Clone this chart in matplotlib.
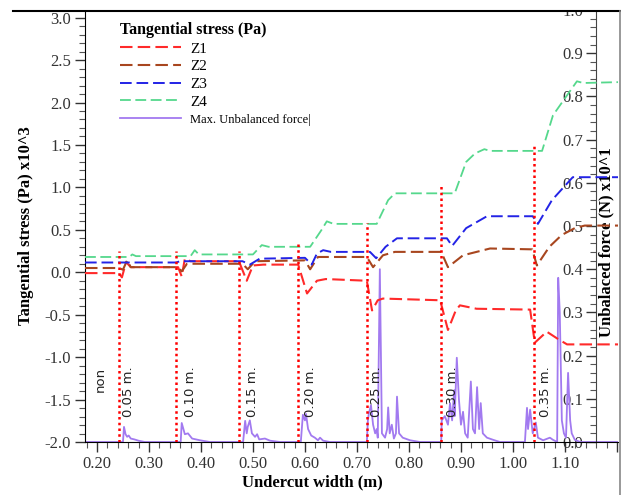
import matplotlib
matplotlib.use("Agg")
import matplotlib.pyplot as plt
from matplotlib.ticker import MultipleLocator, FormatStrFormatter, FuncFormatter
from matplotlib.lines import Line2D
from matplotlib.patches import Rectangle

# ---------------- data ----------------
z1_x = [0.177, 0.242, 0.248, 0.256, 0.265, 0.356, 0.363, 0.369, 0.380, 0.473, 0.488, 0.500,
        0.520, 0.587, 0.604, 0.623, 0.640, 0.719, 0.729, 0.740, 0.750, 0.860, 0.875, 0.890,
        0.898, 0.930, 1.033, 1.042, 1.065, 1.085, 1.104, 1.202]
z1_y = [-0.01, -0.01, -0.06, 0.12, 0.06, 0.06, -0.05, 0.16, 0.13, 0.13, -0.10, 0.08,
        0.09, 0.09, -0.25, -0.10, -0.08, -0.10, -0.45, -0.33, -0.31, -0.33, -0.68, -0.45,
        -0.39, -0.43, -0.44, -0.83, -0.70, -0.78, -0.85, -0.85]

z2_x = [0.177, 0.242, 0.250, 0.258, 0.265, 0.356, 0.363, 0.373, 0.480, 0.490, 0.504, 0.600,
        0.610, 0.625, 0.719, 0.731, 0.750, 0.773, 0.862, 0.875, 0.904, 0.956, 1.037, 1.046,
        1.070, 1.094, 1.119, 1.138, 1.202]
z2_y = [0.05, 0.05, 0.03, 0.14, 0.06, 0.06, 0.01, 0.10, 0.10, 0.035, 0.13, 0.14,
        0.035, 0.18, 0.18, 0.06, 0.20, 0.24, 0.24, 0.06, 0.20, 0.28, 0.27, 0.08,
        0.30, 0.44, 0.52, 0.55, 0.55]

z3_x = [0.177, 0.352, 0.360, 0.480, 0.494, 0.513, 0.600, 0.613, 0.623, 0.635, 0.650, 0.725,
        0.737, 0.755, 0.777, 0.873, 0.883, 0.910, 0.950, 1.038, 1.048, 1.075, 1.115, 1.202]
z3_y = [0.115, 0.115, 0.13, 0.13, 0.09, 0.16, 0.17, 0.09, 0.22, 0.26, 0.24, 0.24,
        0.165, 0.30, 0.40, 0.40, 0.31, 0.52, 0.66, 0.66, 0.57, 0.85, 1.12, 1.12]

z4_x = [0.177, 0.262, 0.268, 0.275, 0.380, 0.388, 0.396, 0.500, 0.517, 0.530, 0.610, 0.632,
        0.642, 0.655, 0.738, 0.760, 0.773, 0.888, 0.910, 0.927, 0.945, 0.956, 1.056, 1.077,
        1.100, 1.123, 1.135, 1.202]
z4_y = [0.18, 0.18, 0.21, 0.19, 0.19, 0.26, 0.21, 0.21, 0.32, 0.30, 0.30, 0.50,
        0.60, 0.57, 0.57, 0.85, 0.93, 0.93, 1.30, 1.40, 1.45, 1.43, 1.43, 1.85,
        2.05, 2.25, 2.23, 2.24]

uf_x = [0.177, 0.250, 0.252, 0.255, 0.258, 0.261, 0.265, 0.272, 0.280, 0.292,
        0.361, 0.363, 0.369, 0.375, 0.383, 0.398, 0.417,
        0.481, 0.485, 0.488, 0.490, 0.494, 0.498, 0.504, 0.508, 0.512, 0.523, 0.533, 0.552,
        0.592, 0.596, 0.600, 0.602, 0.606, 0.612, 0.619, 0.625, 0.629, 0.635, 0.648,
        0.719, 0.721, 0.723, 0.727, 0.731, 0.735, 0.738, 0.740, 0.744, 0.748, 0.754, 0.758,
        0.760, 0.763, 0.767, 0.771, 0.775, 0.777, 0.781, 0.788, 0.802, 0.821,
        0.862, 0.863, 0.869, 0.875, 0.879, 0.883, 0.887, 0.888, 0.892, 0.896, 0.900, 0.904,
        0.908, 0.913, 0.919, 0.923, 0.927, 0.931, 0.935, 0.938, 0.942, 0.950, 0.962, 0.975,
        1.023, 1.027, 1.029, 1.033, 1.038, 1.044, 1.048, 1.058, 1.071, 1.077, 1.085, 1.087,
        1.090, 1.094, 1.098, 1.102, 1.106, 1.110, 1.113, 1.119, 1.129, 1.202]
uf_y = [0.0, 0.0, 0.035, 0.018, 0.012, 0.015, 0.008, 0.006, 0.003, 0.0,
        0.0, 0.044, 0.018, 0.02, 0.008, 0.004, 0.0,
        0.0, 0.049, 0.02, 0.035, 0.05, 0.02, 0.012, 0.018, 0.006, 0.008, 0.003, 0.0,
        0.0, 0.063, 0.05, 0.065, 0.03, 0.015, 0.01, 0.004, 0.01, 0.003, 0.0,
        0.0, 0.05, 0.067, 0.085, 0.04, 0.02, 0.03, 0.01, 0.40, 0.02, 0.01, 0.03,
        0.08, 0.02, 0.04, 0.008, 0.02, 0.105, 0.02, 0.01, 0.004, 0.0,
        0.0, 0.05, 0.06, 0.04, 0.09, 0.05, 0.12, 0.06, 0.195, 0.10, 0.04, 0.07,
        0.02, 0.01, 0.14, 0.03, 0.02, 0.127, 0.03, 0.09, 0.02, 0.01, 0.005, 0.0,
        0.0, 0.079, 0.03, 0.075, 0.02, 0.045, 0.01, 0.004, 0.01, 0.005, 0.0, 0.38,
        0.30, 0.05, 0.02, 0.01, 0.16, 0.05, 0.02, 0.005, 0.0, 0.0]

cut_x = [0.242, 0.352, 0.473, 0.587, 0.719, 0.862, 1.040]
cut_top = [0.25, 0.25, 0.25, 0.35, 0.58, 1.03, 1.52]
cut_labels = ["0.05 m.", "0.10 m.", "0.15 m.", "0.20 m.", "0.25 m.", "0.30 m.", "0.35 m."]
cut_label_x = [0.260, 0.379, 0.500, 0.610, 0.738, 0.883, 1.062]
non_label_x = 0.206

series_names = ["Z1", "Z2", "Z3", "Z4"]
uf_name = "Max. Unbalanced force|"

# ---------------- styling ----------------
SERIF = ["Liberation Serif", "DejaVu Serif"]
colors = {"Z1": "#ff2a2a", "Z2": "#a8461f", "Z3": "#2323e6", "Z4": "#55d88c"}
purple = "#a27af0"

fig = plt.figure(figsize=(6.21, 4.95), dpi=100)
ax = fig.add_axes([85 / 621, 1 - 442 / 495, (618 - 85) / 621, (442 - 10) / 495])

ax.set_xlim(0.177, 1.202)
ax.set_ylim(-2.0, 3.09)

handles = []
for name, xs, ys, lw in [("Z1", z1_x, z1_y, 1.5), ("Z2", z2_x, z2_y, 1.5),
                         ("Z3", z3_x, z3_y, 1.4), ("Z4", z4_x, z4_y, 1.3)]:
    ln, = ax.plot(xs, ys, color=colors[name], lw=lw, dashes=(6, 2.5), label=name, zorder=3)
    handles.append(ln)

for cx, ct in zip(cut_x, cut_top):
    ax.vlines(cx, -2.0, ct, colors="#ff0000", linestyles=(0, (1, 1.3)), lw=1.8, zorder=4)

for lx, lab in zip(cut_label_x, cut_labels):
    ax.text(lx, -1.71, lab, rotation=90, ha="center", va="bottom", fontsize=9.5,
            family="DejaVu Sans", color="#222222")
ax.text(non_label_x, -1.415, "non", rotation=90, ha="center", va="bottom", fontsize=9.5,
        family="DejaVu Sans", color="#222222")

# second axis (unbalanced force)
ax2 = ax.twinx()
ax2.set_ylim(0, 1.0)
ufl, = ax2.plot(uf_x, uf_y, color=purple, lw=1.3, label=uf_name, zorder=2)
spine_frac = (596 - 85) / (618 - 85)
ax2.spines["right"].set_visible(False)
ax2.spines["top"].set_visible(False)
ax2.spines["bottom"].set_visible(False)
ax2.spines["left"].set_visible(True)
ax2.spines["left"].set_position(("axes", spine_frac))
ax2.spines["left"].set_color("#444444")
ax2.yaxis.set_ticks_position("left")
ax2.yaxis.set_major_locator(MultipleLocator(0.1))
ax2.yaxis.set_minor_locator(MultipleLocator(0.02))
ax2.yaxis.set_major_formatter(FormatStrFormatter("%.1f"))
ax2.tick_params(axis="y", which="major", direction="out", length=7, width=1, pad=2,
                labelsize=12, colors="#333333")
ax2.tick_params(axis="y", which="minor", direction="out", length=4, width=0.8, colors="#555555")
for t in ax2.get_yticklabels():
    t.set_family(SERIF)
ax2.set_ylabel("Unbalaced force (N) x10^1", fontsize=12, fontweight="bold", family=SERIF)
ax2.yaxis.set_label_position("left")
ax2.yaxis.set_label_coords((606 - 85) / (618 - 85), 0.462)
ax2.yaxis.label.set_va("center")

# main axis styling
ax.spines["top"].set_visible(False)
ax.spines["right"].set_visible(False)
ax.xaxis.set_major_locator(MultipleLocator(0.1))
ax.xaxis.set_minor_locator(MultipleLocator(0.02))
ax.xaxis.set_major_formatter(FuncFormatter(lambda v, p: "" if v > 1.15 else f"{v:.2f}"))
ax.yaxis.set_major_locator(MultipleLocator(0.5))
ax.yaxis.set_minor_locator(MultipleLocator(0.1))
ax.yaxis.set_major_formatter(FormatStrFormatter("%.1f"))
ax.tick_params(axis="both", which="major", direction="out", length=7, width=1, labelsize=12,
               colors="#333333", pad=3)
ax.tick_params(axis="both", which="minor", direction="out", length=4, width=0.8, colors="#555555")
for t in ax.get_xticklabels() + ax.get_yticklabels():
    t.set_family(SERIF)
ax.set_xlabel("Undercut width (m)", fontsize=12, fontweight="bold", family=SERIF)
ax.xaxis.set_label_coords((312 - 85) / 533, -0.076)
ax.set_ylabel("Tangential stress (Pa) x10^3", fontsize=12, fontweight="bold", family=SERIF)
ax.yaxis.set_label_coords(-(85 - 34) / 533, 0.502)

ax.set_zorder(ax2.get_zorder() + 1)
ax.patch.set_visible(False)

leg = ax.legend(handles + [ufl], series_names + [uf_name], loc="upper left",
                bbox_to_anchor=(120 / 621, 1 - 22 / 495), bbox_transform=fig.transFigure,
                frameon=False, title="Tangential stress (Pa)", alignment="left",
                prop={"family": SERIF, "size": 11}, handlelength=4.0, handletextpad=0.6,
                labelspacing=0.26, borderpad=0, borderaxespad=0)
leg.get_title().set_fontweight("bold")
leg.get_title().set_family(SERIF)
leg.get_title().set_fontsize(11.5)
leg.get_texts()[-1].set_fontsize(9)

# image frame lines (crop border)
fig.patches.append(Rectangle((0, 1 - 10 / 495), 1, 10 / 495, transform=fig.transFigure,
                             facecolor="white", edgecolor="none", zorder=10))
fig.lines.append(Line2D([13 / 621, 1], [1 - 10.5 / 495, 1 - 10.5 / 495], transform=fig.transFigure,
                        color="black", lw=1.5, zorder=11))
fig.lines.append(Line2D([619.5 / 621, 619.5 / 621], [0, 1 - 10.5 / 495], transform=fig.transFigure,
                        color="#888888", lw=1.2, zorder=11))

fig.savefig("out.png", dpi=100)
